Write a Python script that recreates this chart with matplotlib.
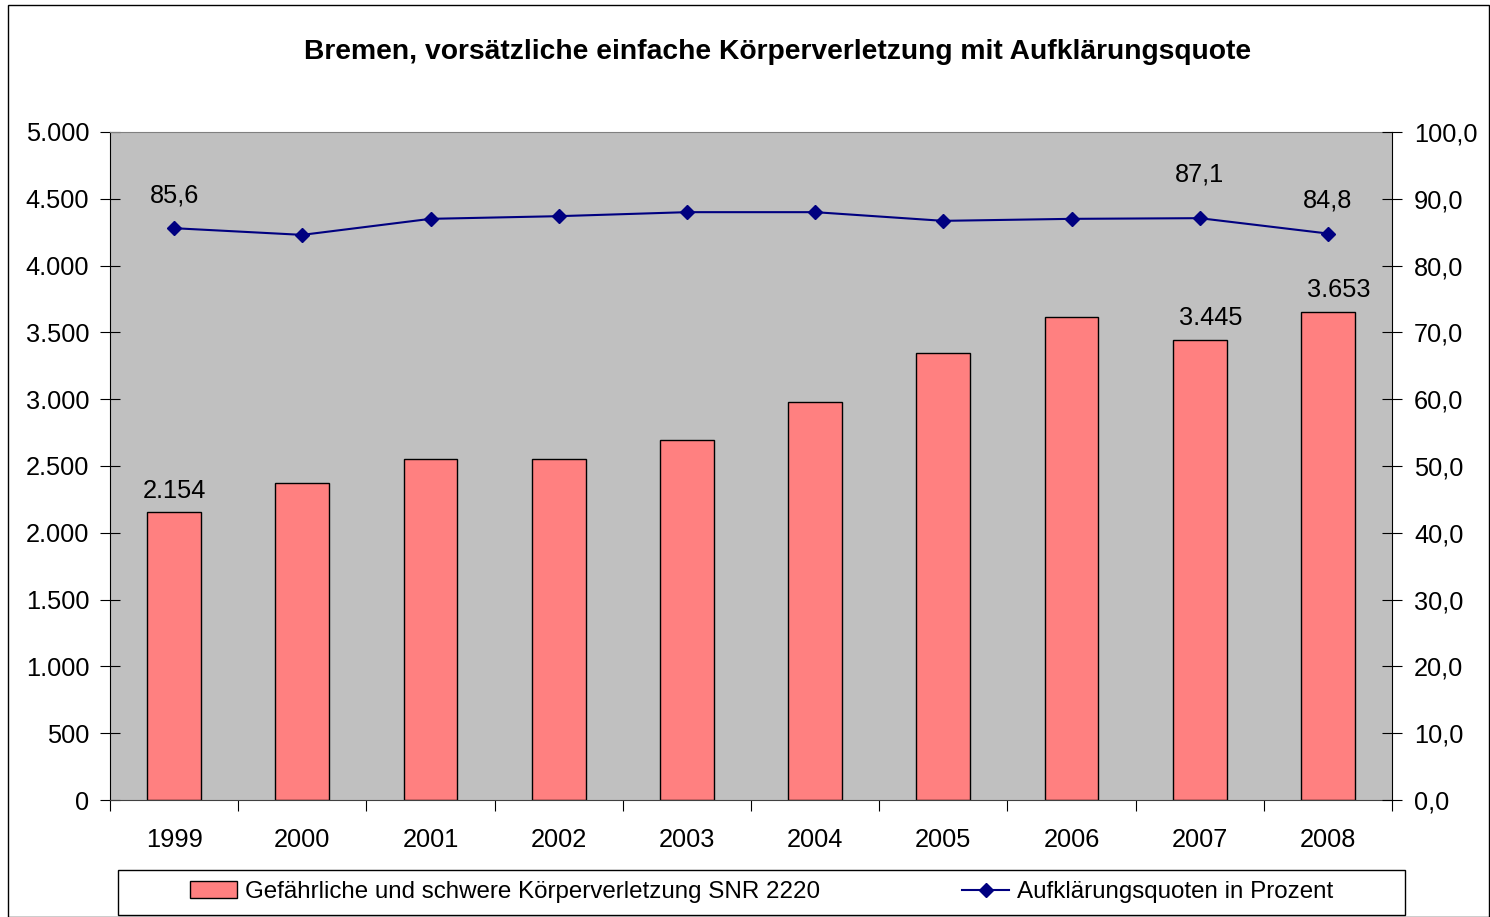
import matplotlib
matplotlib.use("Agg")
import matplotlib.pyplot as plt
import numpy as np
from matplotlib.ticker import FuncFormatter, FixedLocator

plt.rcParams['font.family'] = ['Liberation Sans', 'DejaVu Sans']

years = ['1999', '2000', '2001', '2002', '2003', '2004', '2005', '2006', '2007', '2008']
cases = [2154, 2373, 2552, 2552, 2695, 2979, 3346, 3615, 3445, 3653]
quote = [85.6, 84.6, 87.0, 87.4, 88.0, 88.0, 86.7, 87.0, 87.1, 84.8]
bar_label_idx = [0, 8, 9]
line_label_idx = [0, 8, 9]

title = 'Bremen, vorsätzliche einfache Körperverletzung mit Aufklärungsquote'
bar_name = 'Gefährliche und schwere Körperverletzung SNR 2220'
line_name = 'Aufklärungsquoten in Prozent'

FS = 18.3
W, H = 1490, 917
fig = plt.figure(figsize=(W / 100, H / 100), dpi=100)
fig.patch.set_facecolor('white')

# outer frame
fig.add_artist(plt.Rectangle((8 / W, 0), 1 - 9 / W, 1 - 5 / H, transform=fig.transFigure,
                             fill=False, edgecolor='black', linewidth=1.0))

L, R, T, B = 110, 1392, 132, 800
ax = fig.add_axes([L / W, 1 - B / H, (R - L) / W, (B - T) / H])
ax.set_facecolor('#C0C0C0')
x = np.arange(len(years))
bars = ax.bar(x, cases, width=0.42, color='#FF8080', edgecolor='black', linewidth=1.0, zorder=2,
              label=bar_name)
ax.set_xlim(-0.5, len(years) - 0.5)
ax.set_ylim(0, 5000)
ax.set_yticks(np.arange(0, 5001, 500))
ax.yaxis.set_major_formatter(FuncFormatter(lambda v, p: f'{int(v):,}'.replace(',', '.')))
ax.set_xticks(x)
ax.set_xticklabels(years)
ax.xaxis.set_minor_locator(FixedLocator(np.arange(-0.5, len(years), 1.0)))
ax.tick_params(axis='x', which='major', length=0, pad=20, labelsize=FS)
ax.tick_params(axis='x', which='minor', length=8, direction='out', width=0.8)
ax.tick_params(axis='y', length=14, direction='inout', labelsize=FS, pad=8, width=0.8)
for s in ['left', 'bottom', 'right']:
    ax.spines[s].set_color('black')
ax.spines['top'].set_color('#808080')
ax.spines['bottom'].set_color('#404040')

bar_dx = {0: 0, 8: 8, 9: 8}
for i in bar_label_idx:
    ax.annotate(f'{cases[i]:,}'.replace(',', '.'), (x[i], cases[i]), xytext=(bar_dx[i], 7),
                textcoords='offset points', ha='center', va='bottom', fontsize=FS)

ax2 = ax.twinx()
ax2.set_ylim(0, 100)
ax2.set_yticks(np.arange(0, 101, 10))
ax2.yaxis.set_major_formatter(FuncFormatter(lambda v, p: f'{v:.1f}'.replace('.', ',')))
ax2.tick_params(axis='y', length=14, direction='inout', labelsize=FS, pad=9, width=0.8)
line, = ax2.plot(x, quote, color='#000080', linewidth=1.5, marker='D', markersize=7,
                 label=line_name, zorder=3)
offsets = {0: 15, 8: 23, 9: 15}
for i in line_label_idx:
    ax2.annotate(f'{quote[i]:.1f}'.replace('.', ','), (x[i], quote[i]), xytext=(0, offsets[i]),
                 textcoords='offset points', ha='center', va='bottom', fontsize=FS)
for s in ax2.spines.values():
    s.set_visible(False)

fig.text(778 / W, 1 - 52 / H, title, ha='center', va='center', fontsize=20.3, fontweight='bold')

# legend box
fig.add_artist(plt.Rectangle((118 / W, 1 - 915 / H), (1405 - 118) / W, 45 / H,
                             transform=fig.transFigure, fill=False, edgecolor='black',
                             linewidth=1.0))
leg = fig.legend(handles=[bars, line], labels=[bar_name, line_name],
                 loc='center left', bbox_to_anchor=(190 / W, 1 - 892 / H),
                 ncol=2, fontsize=17.4, frameon=False, handlelength=1.94, handletextpad=0.33,
                 columnspacing=5.9, borderpad=0, borderaxespad=0)

fig.savefig('out.png', dpi=100)
